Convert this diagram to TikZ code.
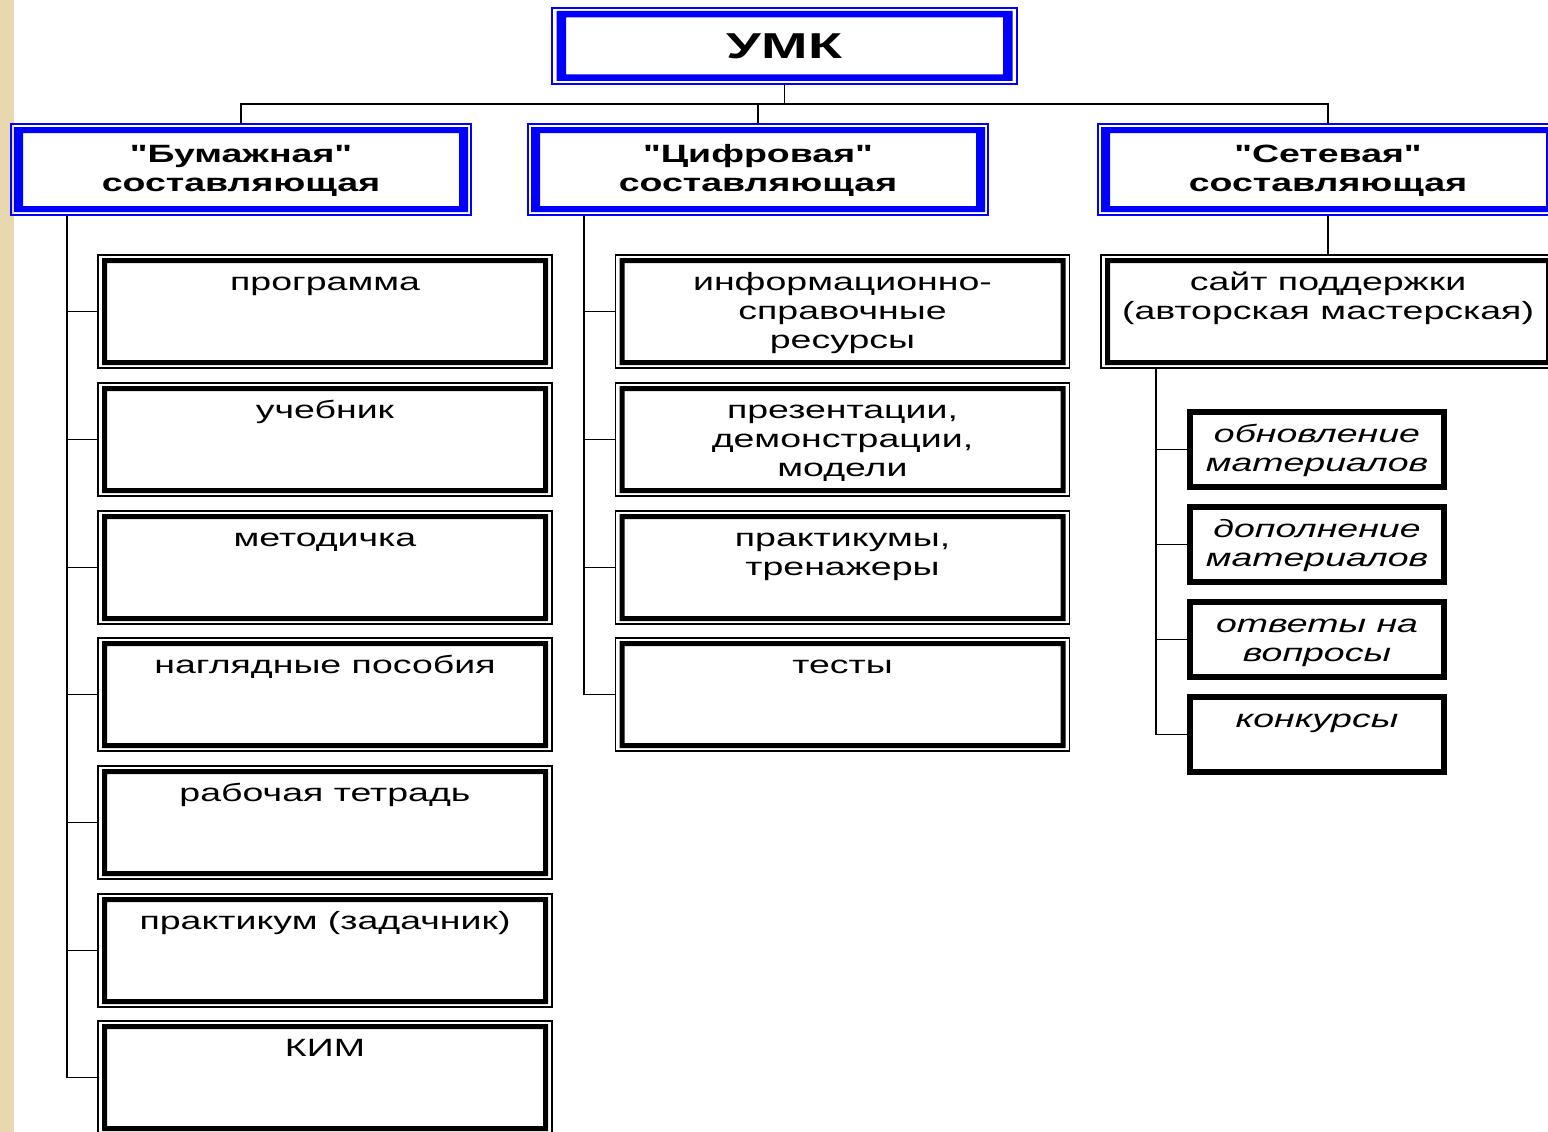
\documentclass[tikz,border=0pt]{standalone}
\usepackage{fontspec}
\newfontfamily\arl[FakeStretch=1.5]{Liberation Sans}
\newfontfamily\arlw[FakeStretch=1.55]{Liberation Sans}
\definecolor{bl}{RGB}{0,0,255}
\definecolor{beige}{RGB}{232,216,176}
\newcommand\lowfont{\arl\fontsize{25}{29}\selectfont}
\tikzset{
  band/.style n args={5}{path picture={
    \fill[#1,even odd rule]
      ([shift={(#2,-#3)}]path picture bounding box.north west) rectangle ([shift={(-#2,#3)}]path picture bounding box.south east)
      ([shift={(#4,-#5)}]path picture bounding box.north west) rectangle ([shift={(-#4,#5)}]path picture bounding box.south east);}},
  topbox/.style={draw=bl, line width=1.3pt, inner sep=0, minimum width=465, minimum height=76,
    band={bl}{4.5pt}{3pt}{14pt}{9.5pt}, font={\arlw\bfseries\fontsize{36}{42}\selectfont}},
  midbox/.style={draw=bl, line width=1.3pt, inner sep=0, minimum width=460, minimum height=91,
    band={bl}{3pt}{3pt}{12pt}{9pt}, align=center, font={\lowfont\bfseries}},
  blackbox/.style={draw=black, line width=1.3pt, inner sep=0, minimum width=454, minimum height=113,
    band={black}{4pt}{3pt}{9pt}{8pt}},
  ibox/.style={draw=black, line width=6pt, inner sep=0, minimum width=254, minimum height=75},
  txt/.style={anchor=north, inner sep=0, align=center, font=\lowfont},
  itxt/.style={anchor=north, inner sep=0, align=center, font={\lowfont\itshape}},
  conn/.style={draw=black, line width=1.9pt}
}
\begin{document}
\begin{tikzpicture}[x=1pt,y=-1pt]
\useasboundingbox (0,0) rectangle (1548,1132);
\clip (0,0) rectangle (1548,1132);
\fill[white] (0,0) rectangle (1548,1132);
\fill[beige] (0,0) rectangle (14,1132);

% top
\node[topbox] (umk) at (784.5,46) {УМК};
% level 2
\node[midbox] (b1) at (241,169.5) {\strut"Бумажная"\\составляющая};
\node[midbox] (b2) at (758,169.5) {\strut"Цифровая"\\составляющая};
\node[midbox] (b3) at (1328,169.5) {\strut"Сетевая"\\составляющая};

% left column
\node[blackbox] (l1) at (325,311.5) {};
\node[blackbox] (l2) at (325,439.5) {};
\node[blackbox] (l3) at (325,567.5) {};
\node[blackbox] (l4) at (325,694.5) {};
\node[blackbox] (l5) at (325,822.5) {};
\node[blackbox] (l6) at (325,950.5) {};
\node[blackbox] (l7) at (325,1077.5) {};
\node[txt] (tl1) at ([yshift=-16pt]l1.north) {\strut программа};
\node[txt] (tl2) at ([yshift=-16pt]l2.north) {\strut учебник};
\node[txt] (tl3) at ([yshift=-16pt]l3.north) {\strut методичка};
\node[txt] (tl4) at ([yshift=-16pt]l4.north) {\strut наглядные пособия};
\node[txt] (tl5) at ([yshift=-16pt]l5.north) {\strut рабочая тетрадь};
\node[txt] (tl6) at ([yshift=-16pt]l6.north) {\strut практикум (задачник)};
\node[txt] (tl7) at ([yshift=-16pt]l7.north) {\strut КИМ};

% middle column
\node[blackbox] (m1) at (842.5,311.5) {};
\node[blackbox] (m2) at (842.5,439.5) {};
\node[blackbox] (m3) at (842.5,567.5) {};
\node[blackbox] (m4) at (842.5,694.5) {};
\node[txt] (tm1) at ([yshift=-16pt]m1.north) {\strut информационно-\\справочные\\ресурсы};
\node[txt] (tm2) at ([yshift=-16pt]m2.north) {\strut презентации,\\демонстрации,\\модели};
\node[txt] (tm3) at ([yshift=-16pt]m3.north) {\strut практикумы,\\тренажеры};
\node[txt] (tm4) at ([yshift=-16pt]m4.north) {\strut тесты};

% right column
\node[blackbox] (s) at (1328,311.5) {};
\node[txt] (ts) at ([yshift=-16pt]s.north) {\strut сайт поддержки\\(авторская мастерская)};
\node[ibox] (r1) at (1317,449.5) {};
\node[ibox] (r2) at (1317,544.5) {};
\node[ibox] (r3) at (1317,639.5) {};
\node[ibox] (r4) at (1317,734.5) {};
\node[itxt] (tr1) at ([yshift=-12.5pt]r1.north) {\strut обновление\\материалов};
\node[itxt] (tr2) at ([yshift=-12.5pt]r2.north) {\strut дополнение\\материалов};
\node[itxt] (tr3) at ([yshift=-12.5pt]r3.north) {\strut ответы на\\вопросы};
\node[itxt] (tr4) at ([yshift=-12.5pt]r4.north) {\strut конкурсы};

% connectors
\coordinate (bus) at ([yshift=-19pt]umk.south);
\draw[conn] (umk.south) -- (bus);
\draw[conn] (b1.north) |- (bus) -| (b3.north);
\draw[conn] (b2.north) -- (b2.north |- bus);

\coordinate (tl) at ([xshift=57pt]b1.south west);
\draw[conn] (tl) |- (l7.west);
\foreach \i in {1,...,6} {\draw[conn] (l\i.west) -- (l\i.west -| tl);}

\coordinate (tm) at ([xshift=57pt]b2.south west);
\draw[conn] (tm) |- (m4.west);
\foreach \i in {1,...,3} {\draw[conn] (m\i.west) -- (m\i.west -| tm);}

\draw[conn] (b3.south) -- (s.north);
\coordinate (tr) at ([xshift=56pt]s.south west);
\draw[conn] (tr) |- (r4.west);
\foreach \i in {1,...,3} {\draw[conn] (r\i.west) -- (r\i.west -| tr);}
\end{tikzpicture}
\end{document}
